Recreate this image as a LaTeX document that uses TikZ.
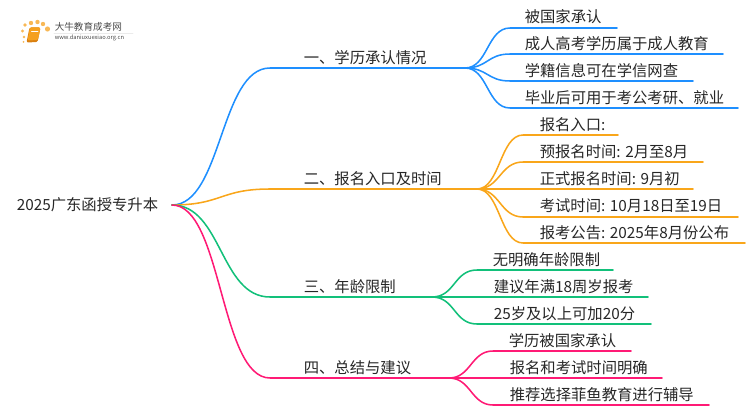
\documentclass[tikz,border=0pt]{standalone}
\usepackage{fontspec}
\setmainfont{Noto Sans CJK SC}
\usepackage{xcolor}
\definecolor{bluebranch}{HTML}{1E8FFF}
\definecolor{orangebranch}{HTML}{F9A61A}
\definecolor{greenbranch}{HTML}{12C07A}
\definecolor{pinkbranch}{HTML}{FF1A75}
\definecolor{logoorange}{HTML}{F5A01E}
\definecolor{logoedge}{HTML}{D97F10}
\definecolor{logotext}{HTML}{4A4A4A}
\tikzset{
    label text/.style={anchor=west, inner sep=0pt, text=black!85, font=\fontsize{11.5pt}{13pt}\selectfont},
    logo dot/.style={fill=logoorange!75, draw=none}
}

\begin{document}
\begin{tikzpicture}[
    x=0.75pt,
    y=-0.75pt,
    line width=1.15pt,
    line cap=round,
    line join=round
]
\useasboundingbox (0,0) rectangle (750,410);

% Logo
\foreach \dotx/\doty/\dotr in {25/25/1.8, 22.5/31/1.6, 24/37/1.4, 23.5/42/1, 31/23/2.2, 37.5/22/2.2, 43/24/2.2, 47.5/29/2.6}
    \fill[logo dot] (\dotx,\doty) circle (\dotr);
\fill[logoedge, rounded corners=1pt] (29.5,27.5) -- (40.5,27.5) -- (37.5,42) -- (26.5,42.5) -- cycle;
\fill[logoorange, rounded corners=1pt] (30,27.5) -- (40.5,27.5) -- (38,40) -- (27.5,40.5) -- cycle;
\draw[white, line width=0.4pt] (31.5,31) -- (38,31);
\draw[black!8, line width=0.5pt] (54,33) -- (133,33);
\node[anchor=west, inner sep=0pt, text=logotext, font=\fontsize{7.2pt}{8pt}\selectfont] (logo name) at (54,27) {大牛教育成考网};
\node[anchor=west, inner sep=0pt, text=logotext, font=\fontsize{4.3pt}{5pt}\selectfont] (logo url) at (54,38) {www.daniuxuexiao.org.cn};

% Root
\node[label text] (root) at (16,205) {2025广东函授专升本};
\coordinate (root out) at (172,205);

% Branch texts
\node[label text] (B1) at (303,58) {一、学历承认情况};
\node[label text] (B2) at (303,179) {二、报名入口及时间};
\node[label text] (B3) at (303,287) {三、年龄限制};
\node[label text] (B4) at (303,368) {四、总结与建议};

% Branch ends
\coordinate (B1 in) at (270,68);
\coordinate (B1 out) at (465,68);
\coordinate (B2 in) at (270,189);
\coordinate (B2 out) at (477,189);
\coordinate (B3 in) at (270,297);
\coordinate (B3 out) at (432,297);
\coordinate (B4 in) at (270,378);
\coordinate (B4 out) at (449,378);

% First branch
\node[label text] (L11) at (524,17) {被国家承认};
\node[label text] (L12) at (524,44) {成人高考学历属于成人教育};
\node[label text] (L13) at (524,71) {学籍信息可在学信网查};
\node[label text] (L14) at (524,98) {毕业后可用于考公考研、就业};
\draw[bluebranch] (root out) .. controls +(50,0) and +(-50,0) .. (B1 in) -- (B1 out);
\draw[bluebranch] (B1 out) .. controls +(23,0) and +(-23,0) .. (510,28) -- (617,28) coordinate (L11 end);
\draw[bluebranch] (B1 out) .. controls +(23,0) and +(-23,0) .. (510,54) -- (723,54) coordinate (L12 end);
\draw[bluebranch] (B1 out) .. controls +(23,0) and +(-23,0) .. (510,81) -- (693,81) coordinate (L13 end);
\draw[bluebranch] (B1 out) .. controls +(23,0) and +(-23,0) .. (510,108) -- (738,108) coordinate (L14 end);

% Second branch
\node[label text] (L21) at (539,125) {报名入口:};
\node[label text] (L22) at (539,152) {预报名时间: 2月至8月};
\node[label text] (L23) at (539,179) {正式报名时间: 9月初};
\node[label text] (L24) at (539,206) {考试时间: 10月18日至19日};
\node[label text] (L25) at (539,233) {报考公告: 2025年8月份公布};
\draw[orangebranch] (root out) .. controls +(50,0) and +(-50,0) .. (B2 in) -- (B2 out);
\draw[orangebranch] (B2 out) .. controls +(23,0) and +(-23,0) .. (523,135) -- (618,135) coordinate (L21 end);
\draw[orangebranch] (B2 out) .. controls +(23,0) and +(-23,0) .. (523,162) -- (703,162) coordinate (L22 end);
\draw[orangebranch] (B2 out) -- (693,189) coordinate (L23 end);
\draw[orangebranch] (B2 out) .. controls +(23,0) and +(-23,0) .. (523,217) -- (738,217) coordinate (L24 end);
\draw[orangebranch] (B2 out) .. controls +(23,0) and +(-23,0) .. (523,243) -- (745,243) coordinate (L25 end);

% Third branch
\node[label text] (L31) at (492,260) {无明确年龄限制};
\node[label text] (L32) at (493,287) {建议年满18周岁报考};
\node[label text] (L33) at (493,314) {25岁及以上可加20分};
\draw[greenbranch] (root out) .. controls +(50,0) and +(-50,0) .. (B3 in) -- (B3 out);
\draw[greenbranch] (B3 out) .. controls +(23,0) and +(-23,0) .. (477,270) -- (613,270) coordinate (L31 end);
\draw[greenbranch] (B3 out) -- (648,297) coordinate (L32 end);
\draw[greenbranch] (B3 out) .. controls +(23,0) and +(-23,0) .. (477,324) -- (651,324) coordinate (L33 end);

% Fourth branch
\node[label text] (L41) at (508,341) {学历被国家承认};
\node[label text] (L42) at (509,368) {报名和考试时间明确};
\node[label text] (L43) at (509,395) {推荐选择菲鱼教育进行辅导};
\draw[pinkbranch] (root out) .. controls +(50,0) and +(-50,0) .. (B4 in) -- (B4 out);
\draw[pinkbranch] (B4 out) .. controls +(22,0) and +(-22,0) .. (493,351) -- (631,351) coordinate (L41 end);
\draw[pinkbranch] (B4 out) -- (662,378) coordinate (L42 end);
\draw[pinkbranch] (B4 out) .. controls +(22,0) and +(-22,0) .. (493,405) -- (709,405) coordinate (L43 end);
\end{tikzpicture}
\end{document}
